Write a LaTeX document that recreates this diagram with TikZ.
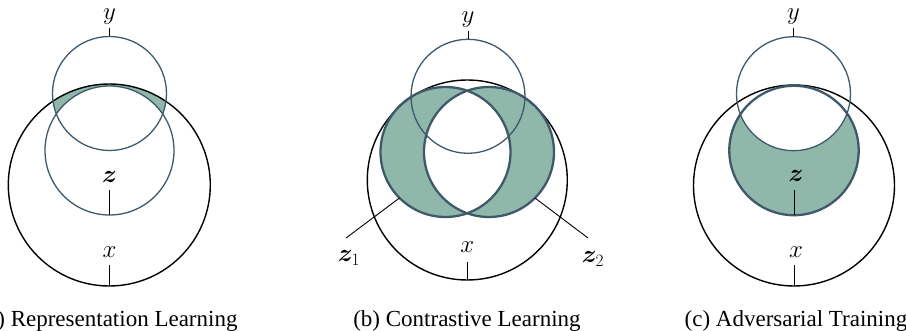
\documentclass[tikz,border=0pt]{standalone}
\usepackage{fontspec}
\setmainfont{Liberation Serif}
\usepackage{amsmath,bm}
\definecolor{vline}{HTML}{3F596B}
\definecolor{vfill}{HTML}{8FB8AA}
\tikzset{
  ycirc/.style={draw=vline, line width=1.3pt},
  zcirc/.style={draw=vline, line width=1.3pt},
  zthick/.style={draw=vline, line width=2.3pt},
  xcirc/.style={draw=black, line width=1.4pt},
  tickline/.style={draw=black, line width=0.9pt},
  lab/.style={anchor=base, inner sep=0pt, font=\fontsize{26}{26}\selectfont},
  captext/.style={anchor=base, inner sep=0pt, font=\fontsize{23}{23}\selectfont},
}
\begin{document}
\begin{tikzpicture}[x=1pt,y=-1pt]
\useasboundingbox (0,0) rectangle (906,331);
% ---------- (a) ----------
\coordinate (yA) at (109.5,93.5);
\coordinate (zA) at (109.5,150.5);
\coordinate (xA) at (109.3,185);
\begin{scope}
  \clip (yA) circle[radius=57pt];
  \fill[vfill, even odd rule] (xA) circle[radius=101pt] (zA) circle[radius=64.5pt];
\end{scope}
\path[xcirc] (xA) circle[radius=101pt];
\path[zcirc] (zA) circle[radius=64.5pt];
\path[ycirc] (yA) circle[radius=57pt];
\node[lab] (ylA) at (109.5,20) {$y$};
\node[lab] (zlA) at (109.5,182.5) {$\bm{z}$};
\node[lab] (xlA) at (109.5,258) {$x$};
\draw[tickline] (yA) ++(0,-57) -- ++(0,-8.5);
\draw[tickline] (zA) ++(0,64.5) -- ++(0,-25);
\draw[tickline] (xA) ++(0,101) -- ++(0,-21);
\node[captext] (capA) at (108.5,327) {(a) Representation Learning};
% ---------- (b) ----------
\coordinate (yB) at (468,96.3);
\coordinate (xB) at (467.3,180);
\coordinate (z1) at (445.5,152);
\coordinate (z2) at (489,152);
\fill[vfill, even odd rule] (z1) circle[radius=65pt] (z2) circle[radius=65pt];
\path[xcirc] (xB) circle[radius=100pt];
\path[zthick] (z1) circle[radius=65pt];
\path[zthick] (z2) circle[radius=65pt];
\path[ycirc] (yB) circle[radius=57pt];
\node[lab] (ylB) at (468,23) {$y$};
\node[lab] (xlB) at (467.3,253) {$x$};
\node[lab] (z1l) at (349,262) {$\bm{z}_1$};
\node[lab] (z2l) at (593,263) {$\bm{z}_2$};
\draw[tickline] (yB) ++(0,-57) -- ++(0,-8);
\draw[tickline] (xB) ++(0,100) -- ++(0,-18);
\coordinate (z1e) at (346,238);
\coordinate (z2e) at (588,238);
\draw[tickline] (z1) ++(225:65pt) -- (z1e);
\draw[tickline] (z2) ++(-45:65pt) -- (z2e);
\node[captext] (capB) at (467,327) {(b) Contrastive Learning};
% ---------- (c) ----------
\coordinate (yC) at (793.5,93.7);
\coordinate (zC) at (794,150.5);
\coordinate (xC) at (794,185.5);
\begin{scope}
  \clip (zC) circle[radius=64.7pt];
  \fill[vfill, even odd rule] (zC) circle[radius=64.7pt] (yC) circle[radius=57pt];
\end{scope}
\path[xcirc] (xC) circle[radius=100.5pt];
\path[zthick] (zC) circle[radius=64.7pt];
\path[ycirc] (yC) circle[radius=57pt];
\node[lab] (ylC) at (793.5,20) {$y$};
\node[lab] (zlC) at (796,181.5) {$\bm{z}$};
\node[lab] (xlC) at (796,258) {$x$};
\draw[tickline] (yC) ++(0,-57) -- ++(0,-9);
\draw[tickline] (zC) ++(0,64.7) -- ++(0,-25);
\draw[tickline] (xC) ++(0,100.5) -- ++(0,-21);
\node[captext] (capC) at (796,327) {(c) Adversarial Training};
\end{tikzpicture}
\end{document}
